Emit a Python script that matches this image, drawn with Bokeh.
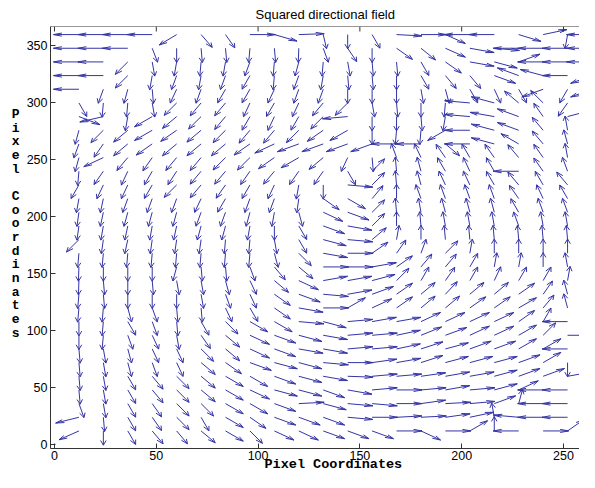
import numpy as np
from bokeh.plotting import figure
from bokeh.models import Range1d, FixedTicker, Title, ColumnDataSource, Span
from bokeh.embed import file_html
from bokeh.resources import INLINE

# grid of arrow tails (pixel coordinates of the image)
x_cols = [12, 24, 36, 48, 60, 72, 84, 96, 108, 120, 132, 144, 156, 168, 180, 192, 204, 216, 228, 240, 252, 264]
y_rows = [360, 348, 336, 324, 312, 300, 288, 276, 264, 252, 240, 228, 216, 204, 192,
          180, 168, 156, 144, 132, 120, 108, 96, 84, 72, 60, 48, 36, 24, 12]

# on-screen arrow direction (degrees, 0 = right, 90 = up), one row per y_rows entry
angles = [
    [180, 180, 180, 180, 211, 311, 305, 0, 344, 2, 283, 270, 300, 357, 0, 336, 180, 180, 343, 12, 260, 180],
    [180, 180, 180, 291, 270, 275, 275, 265, 275, 268, 290, 304, 270, 325, 321, 336, 350, 355, 180, 180, 180, 180],
    [180, 180, 225, 280, 260, 265, 260, 250, 265, 255, 265, 280, 275, 275, 300, 325, 350, 345, 20, 180, 180, 180],
    [180, 180, 225, 260, 250, 260, 250, 240, 265, 250, 260, 275, 275, 270, 300, 310, 310, 340, 160, 165, 180, 200],
    [180, 250, 255, 275, 245, 250, 240, 240, 245, 250, 250, 270, 270, 270, 280, 285, 300, 295, 300, 200, 240, 200],
    [300, 265, 265, 280, 225, 230, 230, 245, 240, 245, 230, 225, 280, 275, 270, 265, 175, 165, 140, 135, 235, 0],
    [339, 193, 260, 210, 220, 225, 230, 240, 245, 240, 225, 185, 270, 270, 275, 260, 175, 170, 160, 125, 15, 30],
    [255, 225, 220, 210, 215, 220, 225, 230, 230, 225, 215, 210, 270, 265, 265, 210, 180, 165, 160, 130, 100, 60],
    [250, 235, 220, 215, 220, 220, 220, 215, 205, 200, 200, 200, 200, 180, 180, 320, 180, 165, 150, 130, 105, 90],
    [255, 205, 230, 235, 230, 230, 225, 225, 215, 210, 220, 245, 275, 110, 115, 125, 120, 125, 130, 125, 100, 0],
    [265, 235, 245, 240, 237, 230, 230, 235, 230, 235, 235, 300, 45, 95, 105, 120, 115, 120, 180, 125, 110, 90],
    [240, 245, 245, 240, 225, 230, 235, 240, 245, 260, 270, 355, 45, 95, 105, 115, 115, 120, 130, 120, 130, 90],
    [260, 258, 250, 250, 250, 245, 240, 250, 250, 262, 325, 330, 50, 90, 110, 110, 110, 110, 125, 115, 120, 90],
    [262, 258, 255, 255, 255, 250, 250, 255, 260, 285, 335, 340, 45, 95, 100, 105, 105, 105, 120, 110, 110, 0],
    [262, 260, 258, 260, 258, 255, 255, 260, 270, 300, 340, 350, 45, 90, 95, 100, 100, 100, 110, 100, 100, 90],
    [225, 262, 258, 262, 262, 262, 265, 265, 280, 300, 345, 355, 40, 80, 90, 95, 95, 95, 95, 95, 95, 90],
    [265, 265, 265, 265, 265, 265, 265, 265, 285, 315, 350, 0, 35, 55, 70, 45, 80, 90, 90, 90, 90, 90],
    [268, 270, 270, 270, 255, 275, 275, 290, 310, 320, 0, 0, 10, 35, 50, 50, 60, 80, 80, 90, 100, 90],
    [268, 275, 270, 275, 280, 280, 285, 295, 320, 335, 10, 10, 15, 45, 60, 55, 60, 65, 60, 60, 80, 90],
    [265, 275, 270, 270, 270, 280, 290, 295, 325, 340, 355, 10, 20, 35, 40, 47, 40, 40, 35, 55, 105, 90],
    [265, 265, 285, 290, 275, 275, 295, 300, 325, 350, 0, 30, 25, 35, 40, 40, 35, 35, 30, 50, 105, 90],
    [270, 265, 300, 290, 275, 300, 315, 330, 330, 355, 345, 5, 10, 10, 25, 25, 25, 25, 35, 60, 180, 0],
    [270, 265, 290, 295, 280, 305, 320, 335, 340, 345, 350, 5, 5, 12, 22, 20, 25, 25, 30, 45, 0, 0],
    [275, 280, 285, 295, 295, 315, 320, 335, 340, 350, 350, 5, 5, 12, 18, 15, 20, 20, 30, 30, 180, 0],
    [275, 280, 285, 290, 295, 320, 325, 340, 345, 345, 355, 0, 8, 10, 18, 15, 15, 15, 20, 30, 270, 20],
    [275, 280, 300, 310, 315, 320, 330, 330, 340, 345, 350, 358, 5, 5, 8, 10, 10, 15, 20, 20, 10, 15],
    [275, 280, 300, 310, 315, 320, 330, 335, 345, 345, 340, 350, 5, 0, 5, 10, 5, 15, 25, 180, 180, 20],
    [290, 280, 300, 305, 315, 315, 330, 330, 340, 3, 345, 355, 355, 0, 8, 3, 5, 20, 75, 180, 180, 0],
    [194, 275, 300, 305, 315, 300, 330, 325, 340, 340, 340, 355, 0, 3, 3, 8, 12, 100, 175, 180, 180, 0],
    [204, 270, 300, 310, 310, 320, 330, 315, 335, 335, 340, 340, 340, 0, 335, 0, 30, 90, 180, 0, 35, 0],
]

x_ticks = [0, 50, 100, 150, 200, 250]
y_ticks = [0, 50, 100, 150, 200, 250, 300, 350]
title_text = "Squared directional field"
label_text = "Pixel Coordinates"

# layout (canvas pixels)
W, H = 579, 472
FL, FT, FB = 50, 25, 448          # frame left / top / bottom
X_LO = -1.96
Y_LO, Y_HI = -3.42, 367.1
SX = 2.036                         # px per data unit along x
SY = (FB - FT) / (Y_HI - Y_LO)     # px per data unit along y
L = 12.5                           # arrow length in data units
ALPHA, BETA = 0.33, 0.33           # arrow head shape

X, Y = np.meshgrid(np.array(x_cols, float), np.array(y_rows, float))
phi = np.radians(np.array(angles, float))
du = np.cos(phi) / SX
dv = np.sin(phi) / SY
n = np.hypot(du, dv)
U = L * du / n
V = L * dv / n
x0 = X.ravel(); y0 = Y.ravel(); u = U.ravel(); v = V.ravel()
x1 = x0 + u; y1 = y0 + v
hx = [[a - ALPHA * (uu + BETA * vv), a, a - ALPHA * (uu - BETA * vv)] for a, uu, vv in zip(x1, u, v)]
hy = [[b - ALPHA * (vv - BETA * uu), b, b - ALPHA * (vv + BETA * uu)] for b, uu, vv in zip(y1, u, v)]

x_end = X_LO + (W - FL) / SX
p = figure(width=W, height=H, x_range=Range1d(X_LO, x_end), y_range=Range1d(Y_LO, Y_HI),
           output_backend="svg", toolbar_location=None,
           min_border_left=FL, min_border_right=0, min_border_top=FT, min_border_bottom=H - FB)
p.outline_line_color = None
p.background_fill_color = "white"
p.border_fill_color = "white"
p.xgrid.visible = False
p.ygrid.visible = False

p.title.text = title_text
p.title.align = "left"
p.title.offset = 205
p.title.standoff = 9
p.title.text_font = "Liberation Sans"
p.title.text_font_size = "13px"
p.title.text_font_style = "normal"
p.title.text_color = "black"

col = "#3434a6"
src = ColumnDataSource(dict(x0=x0, y0=y0, x1=x1, y1=y1))
p.segment("x0", "y0", "x1", "y1", source=src, line_color=col, line_width=1)
p.multi_line(hx, hy, line_color=col, line_width=1)

axis_col = "#333333"
for ax in (p.xaxis[0], p.yaxis[0]):
    ax.major_tick_in = 5
    ax.major_tick_out = 0
    ax.minor_tick_line_color = None
    ax.axis_line_color = axis_col
    ax.major_tick_line_color = axis_col
    ax.major_label_text_font = "Liberation Sans"
    ax.major_label_text_font_size = "12.5px"
    ax.major_label_text_color = "black"
    ax.major_label_standoff = 2
p.xaxis.ticker = FixedTicker(ticks=x_ticks)
p.yaxis.ticker = FixedTicker(ticks=y_ticks)
p.yaxis.major_label_standoff = 3

# top border line with inward ticks
p.add_layout(Span(location=Y_HI, dimension="width", line_color=axis_col, line_width=1))
top_src = ColumnDataSource(dict(x=x_ticks, y0=[Y_HI] * len(x_ticks), y1=[Y_HI - 5 / SY] * len(x_ticks)))
p.segment("x", "y0", "x", "y1", source=top_src, line_color=axis_col, line_width=1)

# y label: upright stacked letters
p.yaxis.axis_label = "\n".join(list(label_text) + [" ", " "])
p.yaxis.axis_label_orientation = "horizontal"
p.yaxis.axis_label_text_font = "Liberation Mono"
p.yaxis.axis_label_text_font_style = "bold"
p.yaxis.axis_label_text_font_size = "13px"
p.yaxis.axis_label_text_line_height = 0.91
p.yaxis.axis_label_text_color = "black"
p.yaxis.axis_label_standoff = 4

# x label
p.add_layout(Title(text=label_text, align="left", offset=214, standoff=-16,
                   text_font="Liberation Mono", text_font_style="bold", text_font_size="13.5px",
                   text_line_height=1.0, text_color="black"), "below")

open("out.html", "w").write(file_html(p, INLINE))
